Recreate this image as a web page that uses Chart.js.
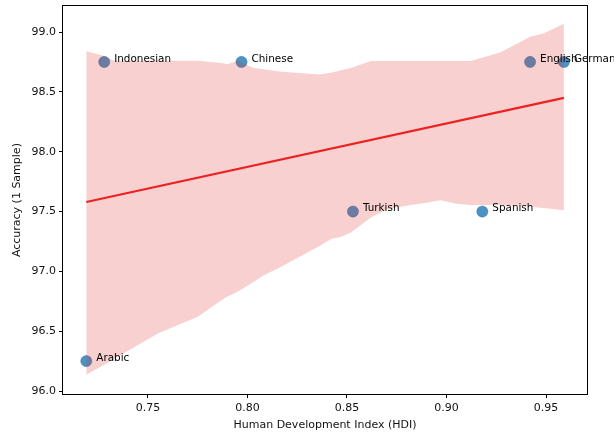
<!DOCTYPE html>
<html>
<head>
<meta charset="utf-8">
<script src="https://cdn.jsdelivr.net/npm/chart.js@4.4.1/dist/chart.umd.min.js"></script>
<style>
  html, body { margin: 0; padding: 0; background: #fff; }
  #wrap { width: 614px; height: 432px; position: relative; }
</style>
</head>
<body>
<div id="wrap"><canvas id="chart" width="614" height="432"></canvas></div>
<script>
// --- DATA ---
const languages = ['Arabic', 'Indonesian', 'Chinese', 'Turkish', 'Spanish', 'English', 'German'];
const hdi = [0.719, 0.728, 0.797, 0.853, 0.918, 0.942, 0.959];
const accuracy = [96.25, 98.75, 98.75, 97.5, 97.5, 98.75, 98.75];

// regression line ends
const fitX = [0.719, 0.959];
const fitY = [97.58, 98.45];

// confidence band edges
const bandX = [0.719, 0.728, 0.733, 0.755, 0.775, 0.788, 0.790, 0.795, 0.803, 0.808, 0.816, 0.836, 0.842, 0.847, 0.852,
               0.862, 0.870, 0.882, 0.890, 0.897, 0.905, 0.912, 0.923, 0.927, 0.942, 0.949, 0.959];
const bandUpper = [98.84, 98.80, 98.76, 98.76, 98.76, 98.74, 98.73, 98.76, 98.70, 98.69, 98.67, 98.645, 98.66, 98.68, 98.70,
                   98.757, 98.757, 98.757, 98.757, 98.757, 98.757, 98.757, 98.81, 98.83, 98.96, 98.99, 99.07];
const bandLower = [96.135, 96.22, 96.27, 96.48, 96.62, 96.77, 96.79, 96.83, 96.91, 96.965, 97.03, 97.21, 97.27, 97.29, 97.325,
                   97.45, 97.52, 97.555, 97.574, 97.594, 97.566, 97.555, 97.555, 97.555, 97.54, 97.53, 97.51];

const xTicks = [0.75, 0.80, 0.85, 0.90, 0.95];
const yTicks = [96.0, 96.5, 97.0, 97.5, 98.0, 98.5, 99.0];

const FONT = "'DejaVu Sans', sans-serif";
const toXY = (xs, ys) => xs.map((x, i) => ({ x: x, y: ys[i] }));

// --- PLUGINS ---
const framePlugin = {
    id: 'frame',
    afterDatasetsDraw(chart) {
        const a = chart.chartArea, ctx = chart.ctx;
        ctx.save();
        ctx.strokeStyle = '#000';
        ctx.lineWidth = 1;
        ctx.strokeRect(Math.round(a.left) - 0.5, Math.round(a.top) - 0.5,
                       Math.round(a.right - a.left) + 1, Math.round(a.bottom - a.top) + 1);
        ctx.restore();
    }
};

const labelPlugin = {
    id: 'pointLabels',
    afterDraw(chart) {
        const ctx = chart.ctx, xs = chart.scales.x, ys = chart.scales.y;
        ctx.save();
        ctx.font = '10.4px ' + FONT;
        ctx.fillStyle = '#000';
        ctx.textBaseline = 'middle';
        ctx.textAlign = 'left';
        languages.forEach((name, i) => {
            ctx.fillText(name, xs.getPixelForValue(hdi[i]) + 10, ys.getPixelForValue(accuracy[i]) - 3);
        });
        ctx.restore();
    }
};

// drop the automatic half-label padding so the plot box sits where it should
const noEdgePad = s => { s.paddingTop = 0; s.paddingBottom = 0; s.paddingLeft = 0; s.paddingRight = 0; };

// --- CHART ---
new Chart(document.getElementById('chart').getContext('2d'), {
    type: 'scatter',
    data: {
        datasets: [
            { label: 'fit', data: toXY(fitX, fitY), showLine: true, borderColor: 'rgb(236,34,34)', borderWidth: 2.2,
              pointRadius: 0, fill: false, order: 1 },
            { label: 'upper', data: toXY(bandX, bandUpper), showLine: true, borderWidth: 0, borderColor: 'rgba(0,0,0,0)',
              pointRadius: 0, fill: '+1', backgroundColor: 'rgba(222,40,40,0.22)', order: 2 },
            { label: 'lower', data: toXY(bandX, bandLower), showLine: true, borderWidth: 0, borderColor: 'rgba(0,0,0,0)',
              pointRadius: 0, fill: false, order: 2 },
            { label: 'langs', data: toXY(hdi, accuracy), pointRadius: 5.6, pointBackgroundColor: 'rgba(31,119,180,0.8)',
              pointBorderColor: 'rgba(31,90,150,0.6)', pointBorderWidth: 0.6, order: 3 }
        ]
    },
    options: {
        responsive: false,
        animation: false,
        layout: { padding: { left: 0, right: 27, top: 3, bottom: 0 } },
        plugins: { legend: { display: false }, tooltip: { enabled: false } },
        scales: {
            x: {
                type: 'linear', min: 0.7073, max: 0.9706,
                afterBuildTicks: s => { s.ticks = xTicks.map(v => ({ value: v })); },
                afterFit: s => { s.height = 38; noEdgePad(s); },
                grid: { drawOnChartArea: false, drawTicks: true, tickLength: 4, color: '#000' },
                border: { display: false },
                ticks: { color: '#111', font: { family: FONT, size: 11 }, padding: 4,
                         callback: v => Number(v).toFixed(2), maxRotation: 0 },
                title: { display: true, text: 'Human Development Index (HDI)', color: '#111',
                         font: { family: FONT, size: 11 }, padding: { top: 0, bottom: 0 } }
            },
            y: {
                type: 'linear', min: 95.975, max: 99.216,
                afterBuildTicks: s => { s.ticks = yTicks.map(v => ({ value: v })); },
                afterFit: s => { s.width = 63; noEdgePad(s); },
                grid: { drawOnChartArea: false, drawTicks: true, tickLength: 4, color: '#000' },
                border: { display: false },
                ticks: { color: '#111', font: { family: FONT, size: 11 }, padding: 3,
                         callback: v => Number(v).toFixed(1) },
                title: { display: true, text: 'Accuracy (1 Sample)', color: '#111',
                         font: { family: FONT, size: 11 }, padding: { top: 11, bottom: 0 } }
            }
        }
    },
    plugins: [framePlugin, labelPlugin]
});
</script>
</body>
</html>
